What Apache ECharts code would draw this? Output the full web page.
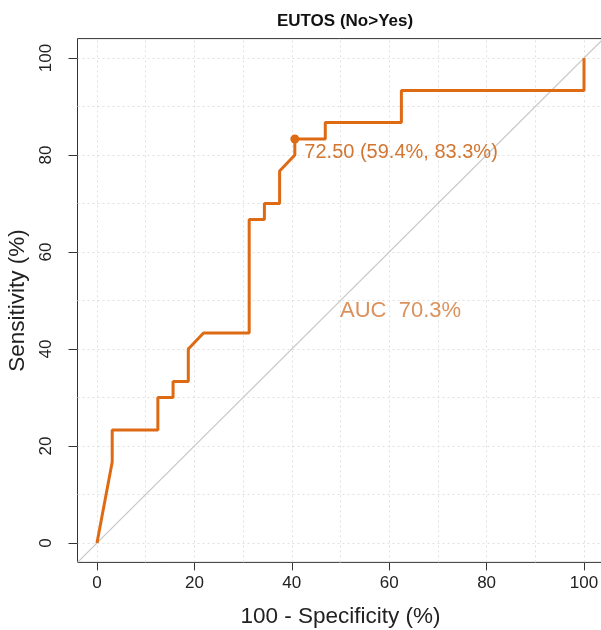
<!DOCTYPE html>
<html>
<head>
<meta charset="utf-8">
<script src="https://cdn.jsdelivr.net/npm/echarts@6/dist/echarts.min.js"></script>
<style>
html,body{margin:0;padding:0;background:#fff;}
#chart{width:601px;height:630px;}
</style>
</head>
<body>
<div id="chart"></div>
<script>
// ROC curve: 100 - specificity (%) and sensitivity (%)
var fpr = [0, 3.125, 3.125, 12.5, 12.5, 15.625, 15.625, 18.75, 18.75, 21.875, 31.25, 31.25, 34.375, 34.375, 37.5, 37.5, 40.625, 40.625, 46.875, 46.875, 62.5, 62.5, 100, 100];
var tpr = [0, 16.7, 23.3, 23.3, 30, 30, 33.3, 33.3, 40, 43.3, 43.3, 66.7, 66.7, 70, 70, 76.7, 80, 83.3, 83.3, 86.7, 86.7, 93.3, 93.3, 100];
var thresholdPoint = [40.625, 83.3];
var thresholdLabel = '72.50 (59.4%, 83.3%)';
var aucLabel = 'AUC  70.3%';
var aucPos = [50, 50];
var tickValues = [0, 20, 40, 60, 80, 100];
var gridValues = [0, 10, 20, 30, 40, 50, 60, 70, 80, 90, 100];
var diagonal = [[-4, -4], [104, 104]];

var orange = '#DF6A14';
var textOrange = '#D27632';
var font = '"Liberation Sans", Arial, sans-serif';

var curve = fpr.map(function (x, i) { return [x, tpr[i]]; });

var gridMarks = gridValues.map(function (v) { return { xAxis: v }; })
  .concat(gridValues.map(function (v) { return { yAxis: v }; }));

var chart = echarts.init(document.getElementById('chart'), null, { renderer: 'canvas' });
chart.setOption({
  animation: false,
  backgroundColor: '#fff',
  title: {
    text: 'EUTOS (No>Yes)',
    left: 340, top: 8, textAlign: 'center',
    textStyle: { fontFamily: font, fontSize: 17, fontWeight: 'bold', color: '#111' }
  },
  grid: {
    left: 77.5, right: -2.5, top: 38.6, bottom: 67.6,
    containLabel: false, outerBoundsMode: 'none',
    show: true, borderColor: '#333', borderWidth: 1, backgroundColor: 'transparent'
  },
  xAxis: {
    type: 'value', min: -4, max: 104,
    name: '100 - Specificity (%)', nameLocation: 'middle', nameGap: 43,
    nameTextStyle: { fontFamily: font, fontSize: 22.5, color: '#222' },
    axisLine: { show: false, onZero: false },
    axisTick: { show: true, inside: false, length: 8, lineStyle: { color: '#333' }, customValues: tickValues },
    axisLabel: { customValues: tickValues, fontFamily: font, fontSize: 17, color: '#222', margin: 12 },
    splitLine: { show: false }
  },
  yAxis: {
    type: 'value', min: -4, max: 104,
    name: 'Sensitivity (%)', nameLocation: 'middle', nameGap: 47,
    nameTextStyle: { fontFamily: font, fontSize: 22.5, color: '#222' },
    axisLine: { show: false, onZero: false },
    axisTick: { show: true, inside: false, length: 9, lineStyle: { color: '#333' }, customValues: tickValues },
    axisLabel: { customValues: tickValues, rotate: 90, fontFamily: font, fontSize: 17, color: '#222', margin: 23 },
    splitLine: { show: false }
  },
  series: [
    {
      type: 'line', data: diagonal, symbol: 'none', silent: true,
      lineStyle: { color: '#c8c8c8', width: 1.3 },
      markLine: {
        silent: true, symbol: 'none', label: { show: false }, z: 0,
        lineStyle: { color: '#e0e0e0', type: [2, 3], width: 1 },
        data: gridMarks
      },
      z: 1
    },
    {
      type: 'line', data: curve, symbol: 'none',
      lineStyle: { color: orange, width: 3 }, z: 3
    },
    {
      type: 'scatter', data: [thresholdPoint], symbolSize: 9,
      itemStyle: { color: orange, opacity: 1 },
      label: {
        show: true, formatter: thresholdLabel, position: 'right', distance: 5, offset: [0, 13],
        fontFamily: font, fontSize: 20, color: textOrange
      },
      z: 4
    },
    {
      type: 'scatter', data: [aucPos], symbolSize: 1,
      itemStyle: { color: 'rgba(0,0,0,0)' },
      label: {
        show: true, formatter: aucLabel, position: [0, 0], align: 'left', verticalAlign: 'top',
        fontFamily: font, fontSize: 22, color: textOrange
      },
      z: 4
    }
  ]
});
</script>
</body>
</html>
